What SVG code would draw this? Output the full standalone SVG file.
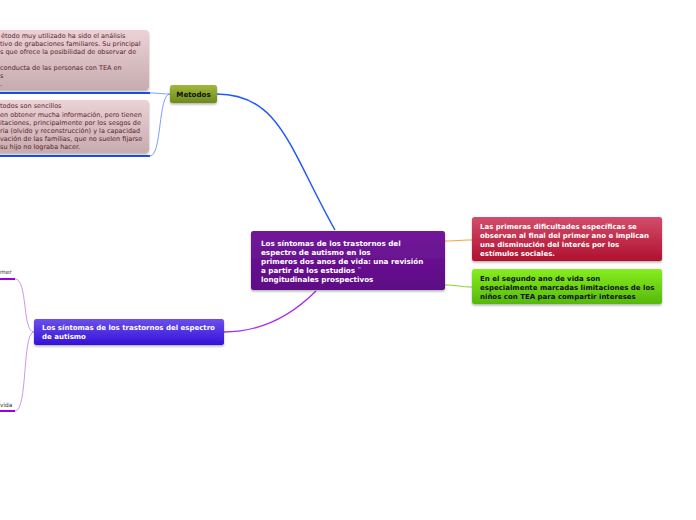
<svg xmlns="http://www.w3.org/2000/svg" width="696" height="520" viewBox="0 0 696 520">
<defs>
<linearGradient id="gPink" x1="0" y1="0" x2="0" y2="1"><stop offset="0" stop-color="#ecd2d6"/><stop offset="1" stop-color="#c6abaf"/></linearGradient>
<linearGradient id="gOlive" x1="0" y1="0" x2="0" y2="1"><stop offset="0" stop-color="#a3b83a"/><stop offset="1" stop-color="#6e8a1c"/></linearGradient>
<linearGradient id="gPurple" x1="0" y1="0" x2="0" y2="1"><stop offset="0" stop-color="#72189a"/><stop offset="1" stop-color="#5e0a86"/></linearGradient>
<linearGradient id="gRed" x1="0" y1="0" x2="0" y2="1"><stop offset="0" stop-color="#d24d6b"/><stop offset="1" stop-color="#b0102e"/></linearGradient>
<linearGradient id="gGreen" x1="0" y1="0" x2="0" y2="1"><stop offset="0" stop-color="#86ee1e"/><stop offset="1" stop-color="#56b80e"/></linearGradient>
<linearGradient id="gBlue" x1="0" y1="0" x2="0" y2="1"><stop offset="0" stop-color="#6a50ec"/><stop offset="1" stop-color="#3510d8"/></linearGradient>
<filter id="sh" x="-10%" y="-20%" width="120%" height="150%"><feDropShadow dx="0" dy="1.5" stdDeviation="1.2" flood-color="#000" flood-opacity="0.3"/></filter>
</defs>
<style>
text{font-family:"DejaVu Sans","Liberation Sans",sans-serif}
.n{font-size:6.5px;fill:#5a1e2c}
.w{font-size:7.2px;font-weight:bold;fill:#fff}
.k{font-size:7.1px;font-weight:bold;fill:#111}
.s{font-size:5.8px;fill:#333}
.c{fill:none}
</style>
<rect width="696" height="520" fill="#fff"/>
<g id="connectors">
<path class="c" d="M217,94 C280,94 290,150 335,230" stroke="#2458ff" stroke-width="1.5"/>
<path class="c" d="M170,94 C160,94 160,93 150,93" stroke="#5c84ff" stroke-width="0.8"/>
<path class="c" d="M170,94 C158,94 162,156 150,156" stroke="#5c84ff" stroke-width="0.8"/>
<path class="c" d="M445,241 C458,241 460,240 472,240" stroke="#f4a23c" stroke-width="1"/>
<path class="c" d="M445,285 C458,285 460,287 472,287" stroke="#7ad82a" stroke-width="1"/>
<path class="c" d="M224,332 C265,332 295,312 316,291" stroke="#a82cf0" stroke-width="1.3"/>
<path class="c" d="M34,332 C22,332 28,279 15,279" stroke="#cc88f0" stroke-width="0.9"/>
<path class="c" d="M34,332 C22,332 28,411 15,411" stroke="#cc88f0" stroke-width="0.9"/>
<line x1="0" y1="93" x2="150" y2="93" stroke="#1d4cf5" stroke-width="2"/>
<line x1="0" y1="156" x2="150" y2="156" stroke="#1d4cf5" stroke-width="2"/>
<line x1="0" y1="279" x2="15" y2="279" stroke="#9a00e0" stroke-width="2"/>
<line x1="0" y1="411" x2="15" y2="411" stroke="#9a00e0" stroke-width="2"/>
</g>
<g id="node-metodo1">
<rect x="-10" y="30" width="159" height="60" rx="4" fill="url(#gPink)" filter="url(#sh)"/>
<text class="n" x="1" y="37.5">étodo muy utilizado ha sido el análisis</text>
<text class="n" x="0" y="46">tivo de grabaciones familiares. Su principal</text>
<text class="n" x="0" y="54">s que ofrece la posibilidad de observar de</text>
<text class="n" x="0" y="70"> conducta de las personas con TEA en</text>
<text class="n" x="0" y="78">s</text>
<text class="n" x="0" y="86">.</text>
</g>
<g id="node-metodo2">
<rect x="-10" y="100" width="159" height="53" rx="4" fill="url(#gPink)" filter="url(#sh)"/>
<text class="n" x="0" y="108">todos son sencillos</text>
<text class="n" x="0" y="116.5">en obtener mucha información, pero tienen</text>
<text class="n" x="0" y="124.5">itaciones, principalmente por los sesgos de</text>
<text class="n" x="0" y="132.5">ria (olvido y reconstrucción) y la capacidad</text>
<text class="n" x="0" y="140.5">vación de las familias, que no suelen fijarse</text>
<text class="n" x="0" y="148.5"> su hijo no lograba hacer.</text>
</g>
<g id="node-metodos">
<rect x="170" y="85" width="47" height="18" rx="2.5" fill="url(#gOlive)" filter="url(#sh)"/>
<text class="k" x="193.5" y="96.5" text-anchor="middle">Metodos</text>
</g>
<g id="node-central">
<rect x="251" y="231" width="194" height="59" rx="2.5" fill="url(#gPurple)" filter="url(#sh)"/>
<text class="w" x="261" y="245.5">Los síntomas de los trastornos del</text>
<text class="w" x="261" y="255">espectro de autismo en los</text>
<text class="w" x="261" y="264">primeros dos anos de vida: una revisión</text>
<text class="w" x="261" y="273">a partir de los estudios ¨</text>
<text class="w" x="261" y="282">longitudinales prospectivos</text>
</g>
<g id="node-primeras">
<rect x="472" y="217" width="190" height="44" rx="2.5" fill="url(#gRed)" filter="url(#sh)"/>
<text class="w" x="480" y="228.5" style="font-size:7px">Las primeras dificultades específicas se</text>
<text class="w" x="480" y="237.5" style="font-size:7px">observan al final del primer ano e implican</text>
<text class="w" x="480" y="246.5" style="font-size:7px">una disminución del interés por los</text>
<text class="w" x="480" y="255.5" style="font-size:7px">estímulos sociales.</text>
</g>
<g id="node-segundo">
<rect x="472" y="269" width="190" height="35" rx="2.5" fill="url(#gGreen)" filter="url(#sh)"/>
<text class="k" x="480" y="280.5" style="font-size:7px">En el segundo ano de vida son</text>
<text class="k" x="480" y="289.5" style="font-size:7px">especialmente marcadas limitaciones de los</text>
<text class="k" x="480" y="298.5" style="font-size:7px">niños con TEA para compartir intereses</text>
</g>
<g id="node-sintomas">
<rect x="34" y="319" width="190" height="26" rx="2.5" fill="url(#gBlue)" filter="url(#sh)"/>
<text class="w" x="42" y="330" style="font-size:7px">Los síntomas de los trastornos del espectro</text>
<text class="w" x="42" y="339" style="font-size:7px">de autismo</text>
</g>
<g id="node-primer">
<text class="s" x="0" y="274">mer</text>
</g>
<g id="node-vida">
<text class="s" x="0" y="407">vida</text>
</g>
</svg>
